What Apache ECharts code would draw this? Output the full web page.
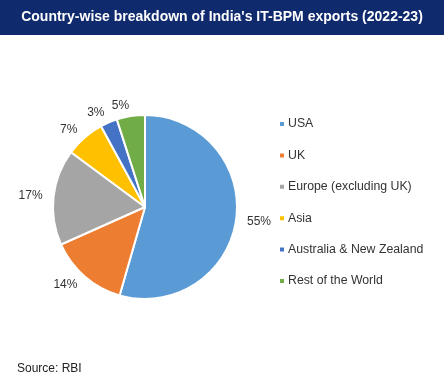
<!DOCTYPE html>
<html><head><meta charset="utf-8">
<script src="https://cdn.jsdelivr.net/npm/echarts@6/dist/echarts.min.js"></script>
<style>html,body{margin:0;padding:0;background:#fff}#c{width:444px;height:388px}</style>
</head><body><div id="c"></div>
<script>
const categories = ["USA", "UK", "Europe (excluding UK)", "Asia", "Australia & New Zealand", "Rest of the World"];
const shares = [55, 14, 17, 7, 3, 5];
const colors = ["#5b9bd5", "#ed7d31", "#a5a5a5", "#ffc000", "#4472c4", "#70ad47"];
const titleText = "Country-wise breakdown of India's IT-BPM exports (2022-23)";
const sourceText = "Source: RBI";

const chart = echarts.init(document.getElementById('c'));
chart.setOption({
  backgroundColor: '#fff',
  animation: false,
  color: colors,
  graphic: [
    { type: 'rect', left: 0, top: 0, shape: { width: 444, height: 35 }, style: { fill: '#102a6e' }, z: 0 },
    { type: 'text', left: 'center', top: 10, style: { text: titleText, fill: '#fff', font: 'bold 14px "Liberation Sans", Arial, sans-serif' }, z: 1 },
    { type: 'text', left: 17, top: 363, style: { text: sourceText, fill: '#222', font: '12px "Liberation Sans", Arial, sans-serif' }, z: 1 }
  ],
  legend: {
    orient: 'vertical',
    left: 273,
    top: 113,
    itemWidth: 6,
    itemHeight: 6,
    itemGap: 19.4,
    icon: 'rect',
    data: categories,
    textStyle: { color: '#333', fontSize: 12.3, fontFamily: '"Liberation Sans", Arial, sans-serif', padding: [0, 0, 0, -2] }
  },
  series: [{
    type: 'pie',
    center: [145, 207],
    radius: 92,
    startAngle: 90,
    clockwise: true,
    avoidLabelOverlap: false,
    itemStyle: { borderColor: '#fff', borderWidth: 2 },
    label: {
      show: true,
      position: 'outside',
      formatter: p => p.value + '%',
      color: '#333',
      fontSize: 12,
      fontFamily: '"Liberation Sans", Arial, sans-serif',
      distanceToLabelLine: 0
    },
    labelLine: { show: false, length: 11, length2: 0 },
    data: categories.map((n, i) => ({ name: n, value: shares[i] }))
  }]
});
</script></body></html>
